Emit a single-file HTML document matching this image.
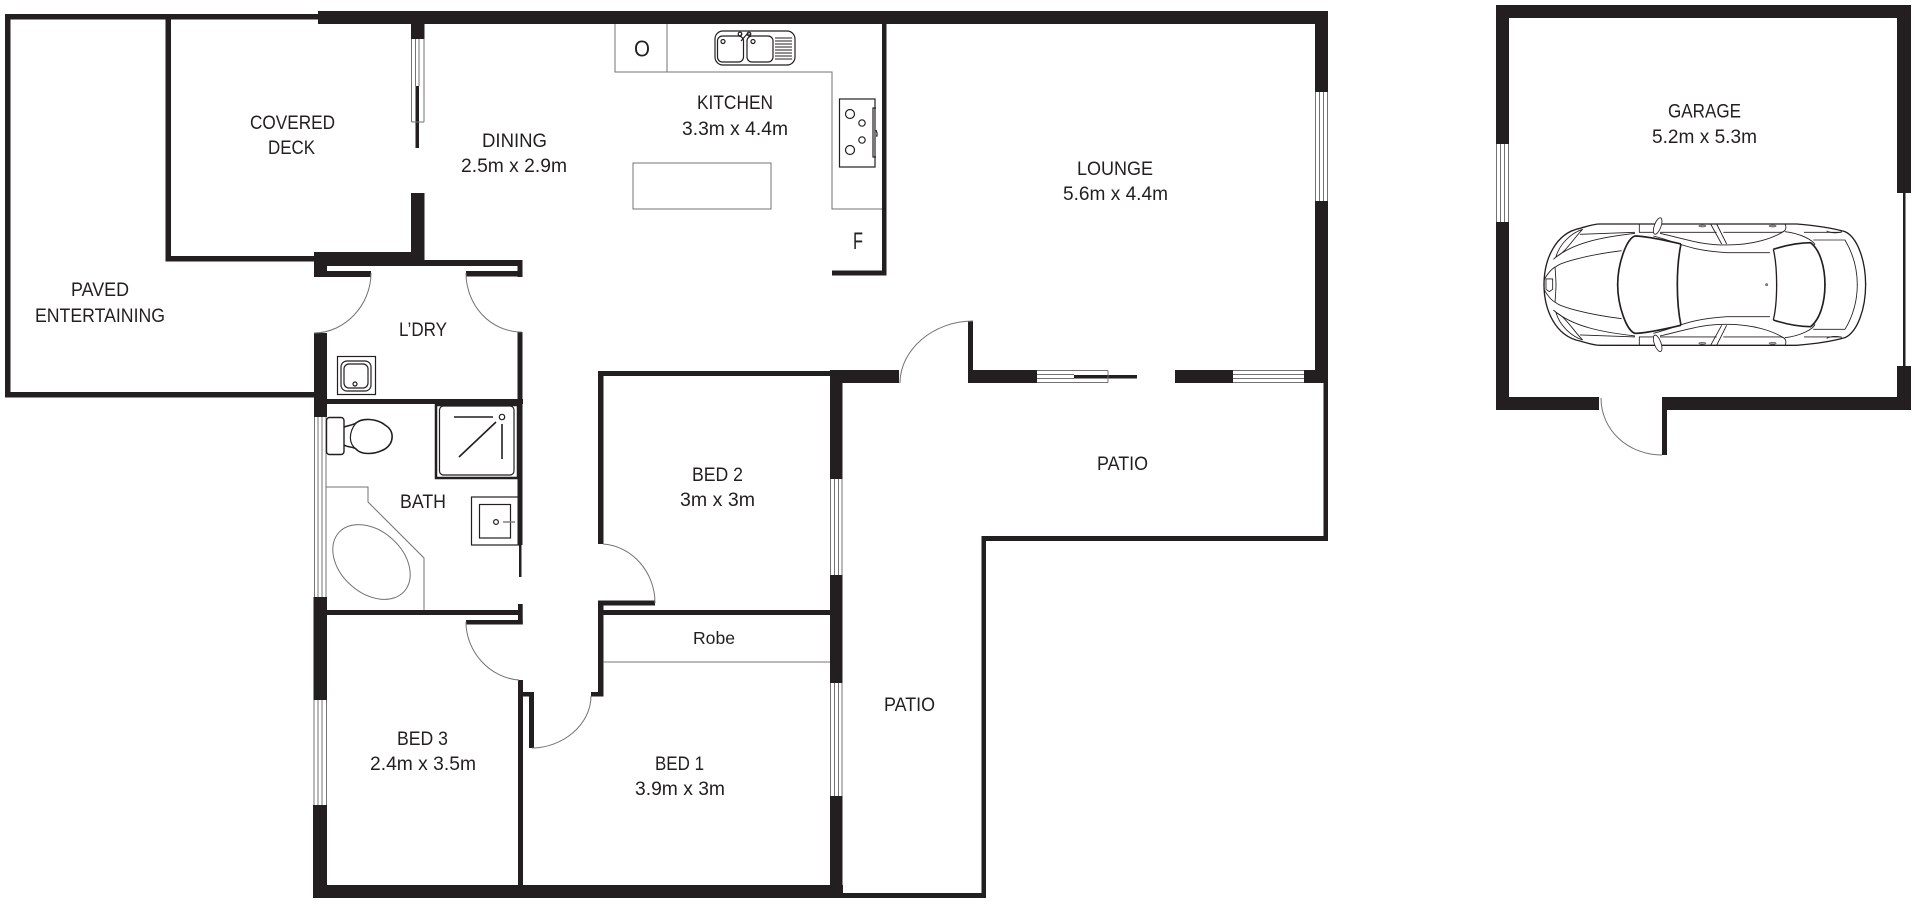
<!DOCTYPE html>
<html><head><meta charset="utf-8"><style>
html,body{margin:0;padding:0;background:#fff}
svg{display:block}
text{font-family:"Liberation Sans",sans-serif;font-size:19.5px;fill:#231f20}
.t{stroke:#737373;stroke-width:1;fill:none}
.k{stroke:#231f20;stroke-width:1.2;fill:none}
.c{stroke:#231f20;fill:none;stroke-width:2.6}
.c2{stroke:#231f20;fill:none;stroke-width:3.6}
</style></head><body>
<svg width="1920" height="904" viewBox="0 0 1920 904" xmlns="http://www.w3.org/2000/svg">
<rect width="1920" height="904" fill="#fff"/>
<g fill="#231f20" stroke="none">
<!-- paved -->
<rect x="5" y="14" width="5.5" height="383"/>
<rect x="5" y="14" width="315" height="5.5"/>
<rect x="5" y="392" width="312" height="5.5"/>
<!-- deck -->
<rect x="165.500" y="17" width="5.500" height="244"/>
<rect x="165.500" y="256" width="150" height="5.500"/>
<!-- top -->
<rect x="318" y="11" width="1010" height="13"/>
<rect x="1315" y="11" width="13" height="81"/>
<rect x="1315" y="201" width="13" height="182"/>
<!-- dining wall -->
<rect x="411" y="24" width="13.500" height="15"/>
<rect x="411" y="193" width="13.500" height="67"/>
<rect x="415.500" y="86" width="3.500" height="62"/>
<!-- laundry head -->
<rect x="314" y="252" width="110" height="14"/>
<rect x="314" y="252" width="13" height="25"/>
<rect x="424" y="260" width="98" height="6"/>
<rect x="327" y="271" width="44" height="6"/>
<rect x="466" y="271" width="56" height="5.500"/>
<rect x="517.500" y="260" width="5" height="17"/>
<!-- west walls -->
<rect x="314" y="333" width="13" height="84"/>
<rect x="313.500" y="597" width="13.500" height="103"/>
<rect x="313" y="805" width="14" height="93"/>
<rect x="517.500" y="332" width="5" height="213"/>
<rect x="519" y="545" width="2.500" height="32"/>
<rect x="327" y="399" width="196" height="5"/>
<rect x="326" y="610" width="196" height="5"/>
<rect x="518" y="604" width="4.700" height="20.500"/>
<rect x="466" y="620" width="56.700" height="4.500"/>
<!-- bed 2 -->
<rect x="598" y="371" width="5.500" height="173"/>
<rect x="598" y="371" width="240" height="5"/>
<rect x="598" y="600.500" width="57" height="5"/>
<rect x="598" y="600.500" width="5.500" height="95.500"/>
<rect x="603" y="610" width="230" height="5"/>
<rect x="591" y="692" width="12.500" height="4.500"/>
<!-- bed 3/1 wall -->
<rect x="518" y="680" width="5" height="210"/>
<rect x="518" y="692" width="16" height="4.500"/>
<rect x="529" y="692" width="5" height="56"/>
<!-- bottom -->
<rect x="313" y="885" width="530" height="13"/>
<!-- bed 1 east -->
<rect x="830" y="370" width="12.500" height="109"/>
<rect x="830" y="575" width="12.500" height="108"/>
<rect x="830" y="796" width="12.500" height="102"/>
<rect x="830" y="370" width="69" height="13"/>
<!-- patio -->
<rect x="842" y="893" width="144" height="5"/>
<rect x="981.500" y="536" width="4.500" height="362"/>
<rect x="981.500" y="536" width="346.500" height="5"/>
<rect x="1323.500" y="383" width="4.500" height="158"/>
<!-- lounge south -->
<rect x="968" y="321" width="5" height="62"/>
<rect x="968" y="370" width="69" height="13"/>
<rect x="1074" y="375" width="63" height="3.500"/>
<rect x="1175" y="370" width="58" height="13"/>
<rect x="1304" y="370" width="24" height="13"/>
<!-- kitchen wall -->
<rect x="882" y="24" width="4.500" height="251.500"/>
<rect x="832" y="270.500" width="54.500" height="5"/>
<!-- garage -->
<rect x="1496" y="5" width="415" height="13"/>
<rect x="1496" y="5" width="13" height="139"/>
<rect x="1496" y="222" width="13" height="188"/>
<rect x="1496" y="397" width="103" height="13"/>
<rect x="1662" y="397" width="249" height="13"/>
<rect x="1662" y="397" width="5" height="58"/>
<rect x="1897" y="5" width="14" height="188"/>
<rect x="1903" y="193" width="2.500" height="173"/>
<rect x="1897" y="366" width="14" height="44"/>
</g>
<!-- windows -->
<g class="t">
<path d="M411.500 39V122M424 39V122M415.500 39V86M419 39V86M411.500 122H424"/>
<path d="M1315.500 92V201M1327.500 92V201M1319.500 92V201M1323.500 92V201"/>
<path d="M1037 370.500H1108M1037 382.500H1108M1037 374.500H1074M1037 378.500H1074M1108 370.500V382.500"/>
<path d="M1233 370.500H1304M1233 382.500H1304M1233 374.500H1304M1233 378.500H1304"/>
<path d="M314.500 417V597M326 417V597M318 417V597M322 417V597"/>
<path d="M314 700V805M326.500 700V805M318 700V805M322 700V805"/>
<path d="M830.500 479V575M842 479V575M834.500 479V575M838.500 479V575"/>
<path d="M830.500 683V796M842 683V796M834.500 683V796M838.500 683V796"/>
<path d="M1496.500 144V222M1508.500 144V222M1500.500 144V222M1504.500 144V222"/>
<!-- doors -->
<path d="M371 273C371 305 345 333 314 333"/>
<path d="M466 273C466 305 490 332 522 332"/>
<path d="M973 321C933 321 900 350 900 383"/>
<path d="M603 544C632 546 655 572 655 603"/>
<path d="M466 622C466 652 490 678 519 680"/>
<path d="M591 696C591 725 562 748 532 748"/>
<path d="M1601 398C1601 430 1628 455 1662 455"/>
<!-- kitchen -->
<path d="M615 24V72H832V209H882M667 24V72"/>
<rect x="633" y="163" width="138" height="46"/>
<!-- bath -->
<path d="M326 487H368V502L424 558V610"/>
<ellipse cx="371.500" cy="562" rx="44" ry="31" transform="rotate(42 371.500 562)"/>
<!-- robe -->
<path d="M603 662H830"/>
</g>
<!-- fixtures -->
<g class="k">
<rect x="839.500" y="99" width="35.500" height="68"/>
<circle cx="850" cy="114" r="4.500"/><circle cx="862" cy="123" r="3.200"/><circle cx="862" cy="140" r="3.200"/><circle cx="850" cy="150" r="4.500"/>
<path d="M876 108H873V157H876M876 130L877 133L877 136L876 136"/>
<rect x="715" y="31" width="80" height="34" rx="8"/>
<rect x="717.500" y="36" width="26" height="26" rx="5"/>
<rect x="747" y="36" width="26" height="26" rx="5"/>
<circle cx="723" cy="41.500" r="2"/><circle cx="753" cy="41.500" r="2"/>
<path d="M741 35L742 33.500M749 35L749 33.500M741 41L748 33"/>
<circle cx="740" cy="34" r="1.800"/><circle cx="749" cy="34" r="1.800"/>
<path d="M775 38H792M775 41H792M775 44H792M775 47H792M775 50H792M775 53H792M775 56H792M775 59H792" stroke-width="1"/>
<!-- laundry tub -->
<rect x="337.500" y="356.500" width="38" height="38"/>
<rect x="341" y="361" width="30" height="30" rx="6"/>
<rect x="344" y="364" width="24" height="24" rx="5"/>
<circle cx="355" cy="384" r="2"/>
<!-- shower -->
<rect x="436" y="405" width="82" height="73" stroke-width="2.500"/>
<rect x="439.500" y="406" width="74.500" height="69" rx="4"/>
<path d="M454 417H493M502 424V459M459 457L496 422" stroke-width="1.600"/>
<circle cx="502" cy="417" r="2.700"/>
<!-- toilet -->
<rect x="326.500" y="417.500" width="17.500" height="37" rx="3" stroke-width="1.400"/>
<path d="M344 427C350 425 353 425 356 423C362 418 376 418 385 425C395 431 394 443 385 449C374 455 361 455 356 449C352 446 349 448 344 445" stroke-width="1.600"/>
<path d="M356 423C348 433 349 444 356 449" stroke-width="1.200"/>
<!-- basin -->
<rect x="471.500" y="497" width="47" height="48"/>
<rect x="479.500" y="504.500" width="31" height="33.500"/>
<circle cx="496" cy="522" r="2.400"/>
<path d="M503 522H515" stroke="#808080" stroke-width="1.500"/>
</g>
<!-- car -->
<g transform="translate(1520 200) scale(.3333)">
<g id="half">
<path class="c" style="stroke-width:4" d="M72 255C72 180 105 100 180 85C205 78 220 72 240 72H830C880 76 930 82 975 95C1012 112 1037 180 1037 255"/>
<path class="c2" style="stroke-width:5" d="M483 132C440 122 375 108 345 108C320 115 293 190 293 255"/>
<path class="c2" style="stroke-width:5" d="M483 132C474 175 472 215 472 255"/>
<path class="c2" style="stroke-width:5" d="M760 148C800 135 840 128 872 128C900 150 915 200 915 255"/>
<path class="c2" style="stroke-width:4" d="M760 148C768 180 770 220 770 255"/>
<path class="c" d="M72 240C80 225 95 205 108 200C120 188 200 165 305 152"/>
<path class="c" d="M100 178C160 125 260 110 345 100"/>
<path class="c" d="M108 170C118 135 150 100 188 88C165 110 135 160 108 170Z"/>
<path class="c" d="M105 200C108 240 108 245 108 255"/>
<path class="c" d="M180 103L345 97"/>
<path class="c" d="M358 72V97H400M420 97H590M610 97H780C795 97 802 85 795 72"/>
<path class="c" d="M572 72L605 132M590 72L620 132"/>
<path class="c" d="M400 108C480 128 500 150 620 158H750"/>
<path class="c" d="M420 100C500 118 540 135 620 135C700 135 760 115 795 92"/>
<path class="c" d="M795 95C840 100 880 120 885 135"/>
<path class="c" d="M852 97H965M880 120H975C1005 170 1012 220 1012 255"/>
<path class="c" d="M920 93C935 100 955 100 965 95"/>
<ellipse cx="413" cy="78" rx="10" ry="26" transform="rotate(20 413 78)" fill="#fff" stroke="#231f20" stroke-width="2.500"/>
<ellipse cx="547" cy="78" rx="11" ry="3" fill="#aaa" stroke="#231f20" stroke-width="1.500"/>
<ellipse cx="758" cy="78" rx="11" ry="3" fill="#aaa" stroke="#231f20" stroke-width="1.500"/>
</g>
<use href="#half" transform="translate(0 508) scale(1 -1)"/>
<path class="c" d="M78 237H98V268L88 275L78 268Z"/>
<circle cx="740" cy="254" r="4" fill="#888" stroke="#444" stroke-width="1"/>
</g>
<!-- labels -->
<g transform="translate(0 -0.8)">
<text x="250" y="130" textLength="85" lengthAdjust="spacingAndGlyphs">COVERED</text>
<text x="268" y="155" textLength="47" lengthAdjust="spacingAndGlyphs">DECK</text>
<text x="482" y="148" textLength="65" lengthAdjust="spacingAndGlyphs">DINING</text>
<text x="461" y="173" textLength="106" lengthAdjust="spacingAndGlyphs">2.5m x 2.9m</text>
<text x="71" y="297" textLength="58" lengthAdjust="spacingAndGlyphs">PAVED</text>
<text x="35" y="322.700" textLength="130" lengthAdjust="spacingAndGlyphs">ENTERTAINING</text>
<text x="399" y="337" textLength="48" lengthAdjust="spacingAndGlyphs">L’DRY</text>
<text x="697" y="110" textLength="76" lengthAdjust="spacingAndGlyphs">KITCHEN</text>
<text x="682" y="135.700" textLength="106" lengthAdjust="spacingAndGlyphs">3.3m x 4.4m</text>
<text x="634" y="57.500" textLength="16" lengthAdjust="spacingAndGlyphs" style="font-size:23.500px">O</text>
<text x="853" y="250" textLength="10" lengthAdjust="spacingAndGlyphs" style="font-size:24px">F</text>
<text x="1077" y="175.700" textLength="76" lengthAdjust="spacingAndGlyphs">LOUNGE</text>
<text x="1063" y="201" textLength="105" lengthAdjust="spacingAndGlyphs">5.6m x 4.4m</text>
<text x="1097" y="470.700" textLength="51" lengthAdjust="spacingAndGlyphs">PATIO</text>
<text x="400" y="509" textLength="46" lengthAdjust="spacingAndGlyphs">BATH</text>
<text x="692" y="481.700" textLength="51" lengthAdjust="spacingAndGlyphs">BED 2</text>
<text x="680" y="506.700" textLength="75" lengthAdjust="spacingAndGlyphs">3m x 3m</text>
<text x="693" y="645" textLength="42" lengthAdjust="spacingAndGlyphs" style="font-size:17.500px">Robe</text>
<text x="397" y="745.700" textLength="51" lengthAdjust="spacingAndGlyphs">BED 3</text>
<text x="370" y="770.700" textLength="106" lengthAdjust="spacingAndGlyphs">2.4m x 3.5m</text>
<text x="655" y="770.700" textLength="49" lengthAdjust="spacingAndGlyphs">BED 1</text>
<text x="635" y="795.700" textLength="90" lengthAdjust="spacingAndGlyphs">3.9m x 3m</text>
<text x="884" y="712" textLength="51" lengthAdjust="spacingAndGlyphs">PATIO</text>
<text x="1668" y="118.300" textLength="73" lengthAdjust="spacingAndGlyphs">GARAGE</text>
<text x="1652" y="144" textLength="105" lengthAdjust="spacingAndGlyphs">5.2m x 5.3m</text>
</g>
</svg>
</body></html>
